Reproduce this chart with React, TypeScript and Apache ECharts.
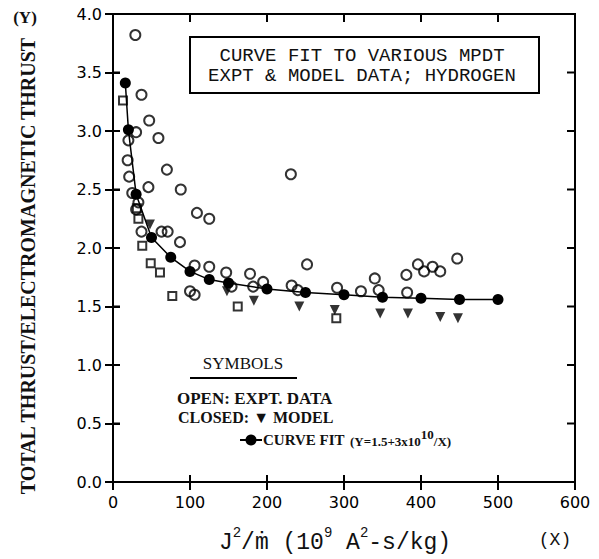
import React, { useEffect, useRef } from "react";
import * as echarts from "echarts";

// Open circles: experimental data [x, y]
const exptCircles: number[][] = [
  [29, 3.82], [37, 3.31], [30, 2.99], [20, 2.92], [47, 3.09], [59, 2.94],
  [19, 2.75], [70, 2.67], [21, 2.61], [231, 2.63], [46, 2.52], [88, 2.5],
  [25, 2.47], [109, 2.3], [125, 2.25], [30, 2.33], [33, 2.39], [37, 2.14],
  [63, 2.14], [71, 2.14], [87, 2.05], [252, 1.86], [106, 1.85], [125, 1.84],
  [147, 1.79], [178, 1.78], [195, 1.71], [100, 1.63], [106, 1.6], [154, 1.67],
  [182, 1.67], [232, 1.68], [240, 1.64], [291, 1.66], [322, 1.63], [340, 1.74],
  [345, 1.64], [381, 1.77], [382, 1.62], [396, 1.86], [404, 1.8], [415, 1.84],
  [425, 1.8], [447, 1.91],
];

// Open squares: experimental data [x, y]
const exptSquares: number[][] = [
  [13, 3.26], [31, 2.34], [33, 2.25], [38, 2.02], [49, 1.87], [61, 1.79],
  [77, 1.59], [162, 1.5], [290, 1.4],
];

// Closed triangles: model [x, y]
const modelTriangles: number[][] = [
  [48, 2.2], [148, 1.63], [183, 1.55], [242, 1.5], [288, 1.47],
  [347, 1.44], [383, 1.44], [425, 1.41], [448, 1.4],
];

// Curve fit points
const fitX: number[] = [16, 20, 30, 50, 75, 100, 125, 150, 200, 250, 300, 350, 400, 450, 500];
const fitY: number[] = [3.41, 3.01, 2.46, 2.09, 1.92, 1.8, 1.73, 1.7, 1.65, 1.62, 1.6, 1.58, 1.57, 1.56, 1.56];

// Axis ticks
const xTickValues: number[] = [100, 200, 300, 400, 500];
const yTickValues: number[] = [0.5, 1.0, 1.5, 2.0, 2.5, 3.0, 3.5];
const xTicks = { min: 0, max: 600, interval: 100 };
const yTicks = { min: 0, max: 4, interval: 0.5 };

const titleLines = ["CURVE FIT TO VARIOUS MPDT", "EXPT & MODEL DATA; HYDROGEN"];

export default function App() {
  const ref = useRef<HTMLDivElement>(null);
  useEffect(() => {
    if (!ref.current) return;
    const chart = echarts.init(ref.current, undefined, { renderer: "svg" });
    const tickStyle = { color: "#000", width: 2 };
    const tickFont = { fontFamily: "DejaVu Sans", fontSize: 16, color: "#000" };
    const serif = "Liberation Serif";
    const mono = "Liberation Mono";

    const baseGraphic: any[] = [
      {
        type: "rect", shape: { x: 190, y: 37, width: 349, height: 56 },
        style: { fill: "#fff", stroke: "#000", lineWidth: 2 }, z: 10,
      },
      {
        type: "text", x: 362, y: 56, z: 11,
        style: { text: titleLines[0], fontFamily: mono, fontSize: 19, fill: "#111", align: "center", verticalAlign: "middle" },
      },
      {
        type: "text", x: 362, y: 76, z: 11,
        style: { text: titleLines[1], fontFamily: mono, fontSize: 19, fill: "#111", align: "center", verticalAlign: "middle" },
      },
      {
        type: "text", x: 28, y: 266, rotation: Math.PI / 2, z: 11,
        style: { text: "TOTAL THRUST/ELECTROMAGNETIC THRUST", fontFamily: serif, fontWeight: "bold", fontSize: 20, fill: "#111", align: "center", verticalAlign: "middle" },
      },
      {
        type: "text", x: 25, y: 17, z: 11,
        style: { text: "(Y)", fontFamily: serif, fontWeight: "bold", fontSize: 17, fill: "#111", align: "center", verticalAlign: "middle" },
      },
      {
        type: "text", x: 335, y: 540, z: 11,
        style: {
          text: "{m|J}{s|2}{m|/ṁ (10}{s|9}{m| A}{s|2}{m|-s/kg)}",
          align: "center", verticalAlign: "middle",
          rich: {
            m: { fontFamily: mono, fontSize: 23, fill: "#111", verticalAlign: "bottom", lineHeight: 28 },
            s: { fontFamily: mono, fontSize: 14, fill: "#111", verticalAlign: "top", lineHeight: 28, padding: [0, 0, 13, 0] },
          },
        },
      },
      {
        type: "text", x: 555, y: 540, z: 11,
        style: { text: "(X)", fontFamily: mono, fontSize: 18, fill: "#111", align: "center", verticalAlign: "middle" },
      },
      {
        type: "text", x: 243, y: 363, z: 11,
        style: { text: "SYMBOLS", fontFamily: serif, fontSize: 17, fill: "#111", align: "center", verticalAlign: "middle" },
      },
      {
        type: "line", shape: { x1: 190, y1: 378, x2: 297, y2: 378 }, z: 11,
        style: { stroke: "#000", lineWidth: 2 },
      },
      {
        type: "text", x: 177, y: 398, z: 11,
        style: { text: "OPEN: EXPT. DATA", fontFamily: serif, fontWeight: "bold", fontSize: 17, fill: "#111", align: "left", verticalAlign: "middle" },
      },
      {
        type: "text", x: 178, y: 417, z: 11,
        style: { text: "CLOSED: ▼ MODEL", fontFamily: serif, fontWeight: "bold", fontSize: 16, fill: "#111", align: "left", verticalAlign: "middle" },
      },
      {
        type: "line", shape: { x1: 240, y1: 440, x2: 262, y2: 440 }, z: 11,
        style: { stroke: "#000", lineWidth: 2 },
      },
      {
        type: "circle", shape: { cx: 251, cy: 440, r: 5.5 }, z: 11,
        style: { fill: "#000" },
      },
      {
        type: "text", x: 263, y: 440, z: 11,
        style: { text: "CURVE FIT", fontFamily: serif, fontWeight: "bold", fontSize: 15, fill: "#111", align: "left", verticalAlign: "middle" },
      },
      {
        type: "text", x: 350, y: 438, z: 11,
        style: {
          text: "{a|(Y=1.5+3x10}{b|10}{a|/X)}", align: "left", verticalAlign: "middle",
          rich: {
            a: { fontFamily: serif, fontWeight: "bold", fontSize: 13, fill: "#111", verticalAlign: "bottom", lineHeight: 20 },
            b: { fontFamily: serif, fontWeight: "bold", fontSize: 13, fill: "#111", verticalAlign: "top", lineHeight: 20, padding: [0, 0, 10, 0] },
          },
        },
      },
    ];

    chart.setOption({
      animation: false,
      grid: {
        left: 113, top: 14, width: 462, height: 468,
        show: true, borderColor: "#000", borderWidth: 2,
      },
      xAxis: [
        {
          type: "value", ...xTicks,
          axisLine: { show: true, lineStyle: { color: "#000", width: 2 } },
          splitLine: { show: false },
          axisTick: { show: true, inside: true, length: 7, lineStyle: tickStyle },
          axisLabel: { ...tickFont, margin: 12 },
        },
        {
          type: "value", ...xTicks, position: "top",
          axisLine: { show: true, lineStyle: { color: "#000", width: 2 } },
          splitLine: { show: false },
          axisTick: { show: true, inside: true, length: 8, lineStyle: tickStyle },
          axisLabel: { show: false },
        },
      ],
      yAxis: [
        {
          type: "value", ...yTicks,
          axisLine: { show: true, lineStyle: { color: "#000", width: 2 } },
          splitLine: { show: false },
          axisTick: { show: true, inside: true, length: 7, lineStyle: tickStyle },
          axisLabel: { ...tickFont, margin: 11, formatter: (v: number) => v.toFixed(1) },
        },
        {
          type: "value", ...yTicks, position: "right",
          axisLine: { show: true, lineStyle: { color: "#000", width: 2 } },
          splitLine: { show: false },
          axisTick: { show: true, inside: true, length: 8, lineStyle: tickStyle },
          axisLabel: { show: false },
        },
      ],
      graphic: baseGraphic,
      series: [
        {
          type: "line", name: "fit", data: fitX.map((x, i) => [x, fitY[i]]),
          symbol: "circle", symbolSize: 11, showSymbol: true,
          lineStyle: { color: "#000", width: 1.5 },
          itemStyle: { color: "#000" }, z: 3,
        },
        {
          type: "scatter", name: "expt circles", data: exptCircles,
          symbol: "circle", symbolSize: 10,
          itemStyle: { color: "transparent", borderColor: "#000", borderWidth: 2 }, z: 4,
        },
        {
          type: "scatter", name: "expt squares", data: exptSquares,
          symbol: "rect", symbolSize: 8,
          itemStyle: { color: "transparent", borderColor: "#000", borderWidth: 2 }, z: 4,
        },
        {
          type: "scatter", name: "model", data: modelTriangles,
          symbol: "triangle", symbolRotate: 180, symbolSize: 10,
          itemStyle: { color: "#000" }, z: 4,
        },
      ],
    });

    // Frame and inward tick marks, positioned through the chart's own scales
    const P = (x: number, y: number): number[] =>
      chart.convertToPixel({ gridIndex: 0 } as any, [x, y]) as number[];
    const x0 = xTicks.min, x1 = xTicks.max, y0 = yTicks.min, y1 = yTicks.max;
    const bl = P(x0, y0), tr = P(x1, y1);
    const lineEl = (a: number[], b: number[]) => ({
      type: "line", z: 12, silent: true,
      shape: { x1: a[0], y1: a[1], x2: b[0], y2: b[1] },
      style: { stroke: "#000", lineWidth: 2 },
    });
    const frameEls: any[] = [
      {
        type: "rect", z: 12, silent: true,
        shape: { x: bl[0], y: tr[1], width: tr[0] - bl[0], height: bl[1] - tr[1] },
        style: { fill: "none", stroke: "#000", lineWidth: 2 },
      },
      ...xTickValues.map((x) => { const p = P(x, y0); return lineEl(p, [p[0], p[1] - 7]); }),
      ...xTickValues.map((x) => { const p = P(x, y1); return lineEl(p, [p[0], p[1] + 8]); }),
      ...yTickValues.map((y) => { const p = P(x0, y); return lineEl(p, [p[0] + 7, p[1]]); }),
      ...yTickValues.map((y) => { const p = P(x1, y); return lineEl(p, [p[0] - 8, p[1]]); }),
    ];
    if (isFinite(bl[0]) && isFinite(tr[1])) {
      chart.setOption({ graphic: [...baseGraphic, ...frameEls] });
    }
    return () => chart.dispose();
  }, []);
  return <div ref={ref} style={{ width: 599, height: 559, position: "absolute", left: 0, top: 0 }} />;
}
